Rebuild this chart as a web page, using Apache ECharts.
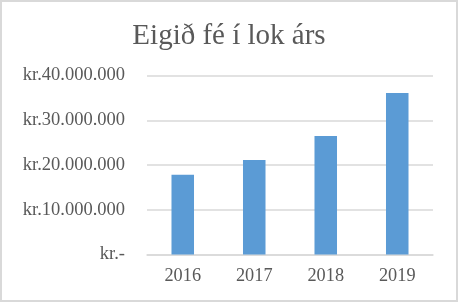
<!DOCTYPE html>
<html>
<head>
<meta charset="utf-8">
<script src="https://cdn.jsdelivr.net/npm/echarts@6/dist/echarts.min.js"></script>
<style>
html,body{margin:0;padding:0;background:#fff;}
#frame{position:absolute;left:0;top:0;width:454px;height:298px;border:2px solid #d9d9d9;background:#fff;}
#chart{position:absolute;left:0;top:0;width:458px;height:302px;}
</style>
</head>
<body>
<div id="frame"></div>
<div id="chart"></div>
<script>
const titleText = "Eigið fé í lok árs";
const categories = ["2016", "2017", "2018", "2019"];
const equityValues = [17800000, 21100000, 26500000, 36100000];
const yTicks = [0, 10000000, 20000000, 30000000, 40000000];

function fmtKr(v) {
  if (v === 0) return "kr.-";
  return "kr." + String(Math.round(v)).replace(/\B(?=(\d{3})+(?!\d))/g, ".");
}

const chart = echarts.init(document.getElementById('chart'), null, {renderer: 'canvas'});
chart.setOption({
  backgroundColor: 'transparent',
  animation: false,
  title: {
    text: titleText,
    left: 'center',
    top: 17,
    textStyle: {fontFamily: 'Liberation Serif', fontSize: 29, fontWeight: 'normal', color: '#595959'}
  },
  grid: {left: 147, right: 25, top: 75.5, bottom: 47.5, containLabel: false},
  xAxis: {
    type: 'category',
    data: categories,
    axisLine: {show: true, lineStyle: {color: '#d9d9d9', width: 1.5}},
    axisTick: {show: false},
    axisLabel: {fontFamily: 'Liberation Serif', fontSize: 18.3, color: '#595959', margin: 13}
  },
  yAxis: {
    type: 'value',
    min: yTicks[0],
    max: yTicks[yTicks.length - 1],
    interval: yTicks[1] - yTicks[0],
    axisLine: {show: false},
    axisTick: {show: false},
    splitLine: {lineStyle: {color: '#d9d9d9', width: 1.5}},
    axisLabel: {fontFamily: 'Liberation Serif', fontSize: 18.5, color: '#595959', margin: 22, formatter: fmtKr}
  },
  series: [{
    type: 'bar',
    data: equityValues,
    barWidth: '31.5%',
    itemStyle: {color: '#5B9BD5'}
  }]
});
</script>
</body>
</html>
